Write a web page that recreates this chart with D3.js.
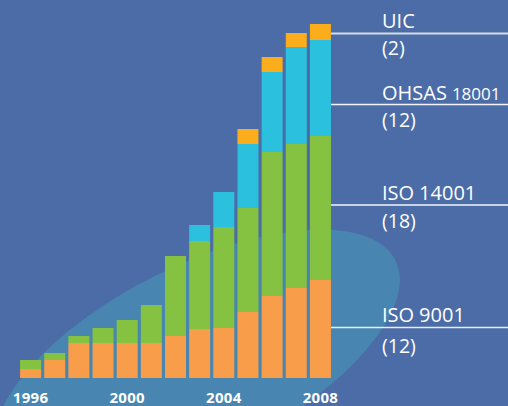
<!DOCTYPE html>
<html>
<head>
<meta charset="utf-8">
<script src="https://cdn.jsdelivr.net/npm/d3@7"></script>
<style>
  html, body { margin: 0; padding: 0; background: #4b6ca7; }
  svg { display: block; }
</style>
</head>
<body>
<svg id="chart" width="508" height="406"></svg>
<script>
// ---- data ----
const years = ["1996","1997","1998","1999","2000","2001","2002","2003","2004","2005","2006","2007","2008"];
const tickYears = ["1996","2000","2004","2008"];
const seriesKeys = ["iso9001","iso14001","ohsas","uic"];
const iso9001  = [9, 18, 35, 35, 35, 35, 42, 49, 50, 66, 82, 90, 98];
const iso14001 = [9, 7, 7, 15, 23, 38, 80, 88, 101, 104, 144, 144, 144];
const ohsas    = [0, 0, 0, 0, 0, 0, 0, 16, 35, 64, 80, 97, 96];
const uic      = [0, 0, 0, 0, 0, 0, 0, 0, 0, 15, 15, 14, 16];
const legendNames  = ["UIC", "OHSAS", "ISO", "ISO"];
const legendNums   = ["", "18001", "14001", "9001"];
const legendCounts = ["(2)", "(12)", "(18)", "(12)"];

const colors = { iso9001: "#f89d4a", iso14001: "#85c242", ohsas: "#2cc0df", uic: "#fbad1c" };

const rows = years.map((y, i) => ({ year: y, iso9001: iso9001[i], iso14001: iso14001[i], ohsas: ohsas[i], uic: uic[i] }));

const svg = d3.select("#chart");
const W = 508, H = 406;

// background
svg.append("rect").attr("width", W).attr("height", H).attr("fill", "#4b6ca7");
// light ellipse
svg.append("ellipse")
  .attr("cx", 0).attr("cy", 0).attr("rx", 222).attr("ry", 94)
  .attr("transform", "translate(197,360) rotate(-26.7)")
  .attr("fill", "#4886b1");

const x = d3.scaleBand().domain(years).range([18.5, 332.5]).paddingInner(0.13).paddingOuter(0.065);
const y = d3.scaleLinear().domain([0, 354]).range([378, 24]);

const stack = d3.stack().keys(seriesKeys)(rows);

svg.append("g").selectAll("g").data(stack).join("g")
  .attr("fill", d => colors[d.key])
  .selectAll("rect").data(d => d).join("rect")
  .attr("x", d => x(d.data.year))
  .attr("width", x.bandwidth())
  .attr("y", d => y(d[1]))
  .attr("height", d => y(d[0]) - y(d[1]));

// x axis
const ax = svg.append("g").attr("transform", "translate(0,378)")
  .call(d3.axisBottom(x).tickValues(tickYears).tickSize(0).tickPadding(14));
ax.select(".domain").remove();
ax.selectAll("text")
  .attr("fill", "#ffffff")
  .attr("font-family", "Open Sans, sans-serif")
  .attr("font-weight", "bold")
  .attr("font-size", "15px")
  .attr("letter-spacing", "0.3px");

// legend (right side annotations)
const legendLineY = [33.5, 104.5, 205, 327.5];
const legendNameY = [28, 100, 199.5, 322];
const legendCountY = [55, 127, 228, 353];
const lineColors = ["#d5dbe6", "#f2f4f8", "#f2f4f8", "#e6edf5"];
const lineWidths = [2, 1.3, 1.5, 1.3];
const lg = svg.append("g").attr("font-family", "Open Sans, sans-serif").attr("fill", "#ffffff");
legendNames.forEach((n, i) => {
  lg.append("line")
    .attr("x1", 331).attr("x2", W)
    .attr("y1", legendLineY[i]).attr("y2", legendLineY[i])
    .attr("stroke", lineColors[i]).attr("stroke-width", lineWidths[i]);
  const t = lg.append("text").attr("x", 382).attr("y", legendNameY[i]).attr("font-size", "20px");
  t.append("tspan").text(n);
  if (legendNums[i]) {
    t.append("tspan").attr("font-size", i === 1 ? "17px" : "20px").attr("dx", 5).text(legendNums[i]);
  }
  lg.append("text").attr("x", 382).attr("y", legendCountY[i]).attr("font-size", "19.5px").text(legendCounts[i]);
});
</script>
</body>
</html>
